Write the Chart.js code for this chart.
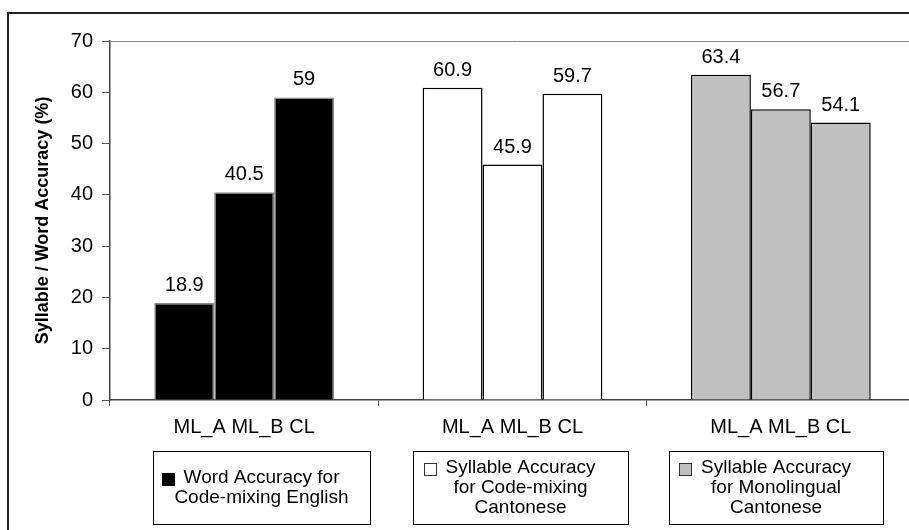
<!DOCTYPE html>
<html>
<head>
<meta charset="utf-8">
<script src="https://cdn.jsdelivr.net/npm/chart.js@4.4.1/dist/chart.umd.min.js"></script>
<style>
    html, body { margin: 0; padding: 0; background: #fff; overflow: hidden; }
    #wrap { width: 909px; height: 530px; overflow: hidden; }
</style>
</head>
<body>
<div id="wrap"><canvas id="grafico" width="916" height="530"></canvas></div>
<script>
// Datos del gráfico
const sistemas = ['ML_A', 'ML_B', 'CL'];
const tareas = [
    ['Word Accuracy for', 'Code-mixing English'],
    ['Syllable Accuracy', 'for Code-mixing', 'Cantonese'],
    ['Syllable Accuracy', 'for Monolingual', 'Cantonese']
];
const valoresMLA = [18.9, 60.9, 63.4];
const valoresMLB = [40.5, 45.9, 56.7];
const valoresCL = [59, 59.7, 54.1];
const coloresTarea = ['#000000', '#ffffff', '#c0c0c0'];
const bordesTarea = ['#8a8a8a', '#000000', '#000000'];

const FUENTE = 'Liberation Sans, Arial, sans-serif';

// Marco exterior y borde superior del área de trazado
const marcoPlugin = {
    id: 'marco',
    beforeDraw(chart) {
        const ctx = chart.ctx;
        ctx.save();
        ctx.strokeStyle = '#222';
        ctx.lineWidth = 2;
        ctx.beginPath();
        ctx.moveTo(8, 530);
        ctx.lineTo(8, 13);
        ctx.lineTo(chart.width, 13);
        ctx.stroke();
        ctx.restore();
    },
    afterDraw(chart) {
        const ctx = chart.ctx;
        const a = chart.chartArea;
        ctx.save();
        ctx.strokeStyle = '#888';
        ctx.lineWidth = 1;
        ctx.beginPath();
        ctx.moveTo(a.left, Math.round(a.top) + 0.5);
        ctx.lineTo(a.right, Math.round(a.top) + 0.5);
        ctx.stroke();
        ctx.restore();
    }
};

// Etiquetas de valor sobre cada barra
const valoresPlugin = {
    id: 'valores',
    afterDatasetsDraw(chart) {
        const ctx = chart.ctx;
        ctx.save();
        ctx.font = '20px ' + FUENTE;
        ctx.fillStyle = '#000';
        ctx.textAlign = 'center';
        ctx.textBaseline = 'alphabetic';
        chart.data.datasets.forEach((ds, i) => {
            chart.getDatasetMeta(i).data.forEach((barra, j) => {
                ctx.fillText(String(ds.data[j]), barra.x, barra.y - 12);
            });
        });
        ctx.restore();
    }
};

// Cajas de leyenda debajo de cada grupo
const leyendaPlugin = {
    id: 'leyendaCajas',
    afterDraw(chart) {
        const ctx = chart.ctx;
        const cajas = [
            { x: 153, w: 217 },
            { x: 413, w: 215 },
            { x: 669, w: 214 }
        ];
        const top = 451, alto = 73, linea = 20;
        ctx.save();
        ctx.font = '19px ' + FUENTE;
        ctx.textAlign = 'center';
        ctx.textBaseline = 'middle';
        tareas.forEach((lineas, i) => {
            const c = cajas[i];
            ctx.strokeStyle = '#000';
            ctx.lineWidth = 1;
            ctx.strokeRect(c.x + 0.5, top + 0.5, c.w, alto);
            const cx = c.x + c.w / 2;
            const y0 = top + alto / 2 - (lineas.length - 1) * linea / 2;
            lineas.forEach((t, k) => {
                ctx.fillStyle = '#000';
                ctx.fillText(t, cx, y0 + k * linea);
            });
            // muestra de color
            const ancho1 = ctx.measureText(lineas[0]).width;
            const sx = Math.round(cx - ancho1 / 2 - 10 - 12);
            const sy = Math.round(y0 - 5);
            ctx.fillStyle = coloresTarea[i];
            ctx.fillRect(sx, sy, 12, 12);
            ctx.strokeStyle = i === 0 ? '#000' : '#333';
            ctx.strokeRect(sx + 0.5, sy + 0.5, 12, 12);
        });
        ctx.restore();
    }
};

const datasetBase = {
    backgroundColor: coloresTarea,
    borderColor: bordesTarea,
    borderWidth: 1.5,
    categoryPercentage: 0.67,
    barPercentage: 1.0
};

new Chart(document.getElementById('grafico'), {
    type: 'bar',
    data: {
        labels: tareas.map(() => sistemas.join(' ')),
        datasets: [
            Object.assign({ label: sistemas[0], data: valoresMLA }, datasetBase),
            Object.assign({ label: sistemas[1], data: valoresMLB }, datasetBase),
            Object.assign({ label: sistemas[2], data: valoresCL }, datasetBase)
        ]
    },
    options: {
        responsive: false,
        animation: false,
        devicePixelRatio: 1,
        layout: { padding: { top: 41, right: 1, left: 0, bottom: 0 } },
        plugins: {
            legend: { display: false },
            tooltip: { enabled: false }
        },
        scales: {
            x: {
                offset: true,
                grid: { offset: true, drawOnChartArea: false, tickLength: 6, color: '#555' },
                border: { color: '#444', width: 1.5 },
                ticks: { font: { family: FUENTE, size: 20 }, color: '#000', padding: 9, maxRotation: 0 },
                afterFit: s => { s.height = 130; }
            },
            y: {
                min: 0,
                max: 70,
                ticks: { stepSize: 10, font: { family: FUENTE, size: 20 }, color: '#000', padding: 9 },
                grid: { drawOnChartArea: false, tickLength: 8, color: '#555' },
                border: { color: '#444', width: 1.5 },
                title: {
                    display: true,
                    text: 'Syllable / Word Accuracy (%)',
                    font: { family: FUENTE, size: 18, weight: 'bold' },
                    color: '#000',
                    padding: { top: 32, bottom: 0 }
                },
                afterFit: s => { s.width = 110; }
            }
        }
    },
    plugins: [marcoPlugin, valoresPlugin, leyendaPlugin]
});
</script>
</body>
</html>
